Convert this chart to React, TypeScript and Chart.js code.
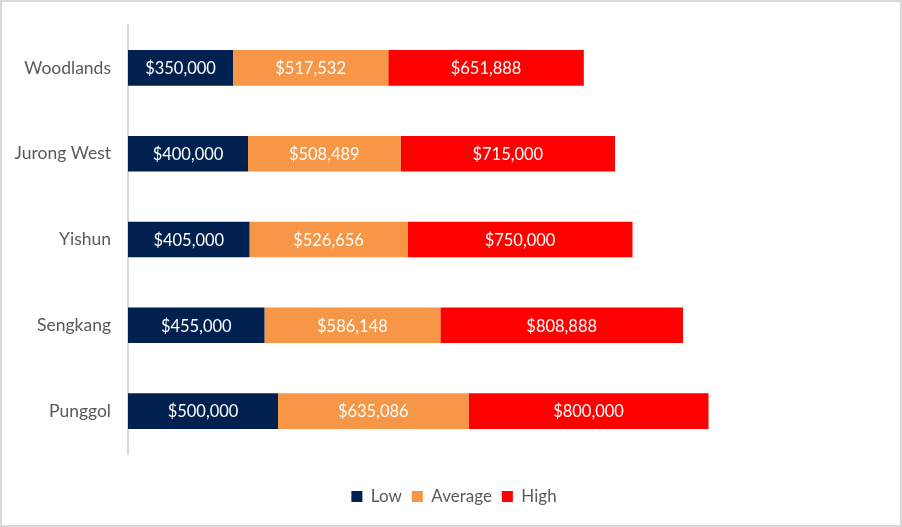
import React, { useEffect, useRef } from "react";
import { Chart, registerables } from "chart.js";

Chart.register(...registerables);

const categories = ["Woodlands", "Jurong West", "Yishun", "Sengkang", "Punggol"];
const lowValues = [350000, 400000, 405000, 455000, 500000];
const averageValues = [517532, 508489, 526656, 586148, 635086];
const highValues = [651888, 715000, 750000, 808888, 800000];
const seriesNames = ["Low", "Average", "High"];
const seriesColors = ["#002050", "#F79646", "#FF0000"];
const xMax = 2500000;

const FONT = "Lato, 'Open Sans', sans-serif";

const valueLabels = {
  id: "valueLabels",
  afterDatasetsDraw(chart: any) {
    const ctx = chart.ctx;
    ctx.save();
    ctx.font = `16.5px ${FONT}`;
    ctx.fillStyle = "#FFFFFF";
    ctx.textAlign = "center";
    ctx.textBaseline = "middle";
    chart.data.datasets.forEach((ds: any, di: number) => {
      const meta = chart.getDatasetMeta(di);
      if (meta.hidden) return;
      meta.data.forEach((el: any, i: number) => {
        const v = ds.data[i];
        const cx = (el.x + el.base) / 2;
        ctx.fillText("$" + Number(v).toLocaleString("en-US"), cx, el.y + 1);
      });
    });
    ctx.restore();
  },
};

const legendShift = {
  id: "legendShift",
  afterLayout(chart: any) {
    if (chart.legend) {
      chart.legend.left += 14;
      chart.legend.right += 14;
    }
  },
};

export default function App() {
  const ref = useRef<HTMLCanvasElement | null>(null);

  useEffect(() => {
    if (!ref.current) return;
    const chart = new Chart(ref.current, {
      type: "bar",
      data: {
        labels: categories,
        datasets: [lowValues, averageValues, highValues].map((d, i) => ({
          label: seriesNames[i],
          data: d,
          backgroundColor: seriesColors[i],
          borderWidth: 0,
          barPercentage: 1,
          categoryPercentage: 0.415,
        })),
      },
      options: {
        indexAxis: "y",
        responsive: false,
        animation: false,
        layout: { padding: { top: 23, right: 22, bottom: 10, left: 0 } },
        scales: {
          x: {
            stacked: true,
            min: 0,
            max: xMax,
            display: true,
            grid: { display: false, drawTicks: false },
            border: { display: false },
            ticks: { display: false },
            afterFit: (scale: any) => {
              scale.height = 24;
              scale.paddingLeft = 0;
              scale.paddingRight = 0;
            },
          },
          y: {
            stacked: true,
            grid: { display: false, drawTicks: false },
            border: { display: true, color: "#D9D9D9", width: 2 },
            ticks: {
              color: "#595959",
              font: { family: FONT, size: 17.5 },
              padding: 17,
            },
            afterFit: (scale: any) => {
              scale.width = 126;
              scale.paddingTop = 0;
              scale.paddingBottom = 0;
            },
          },
        },
        plugins: {
          legend: {
            position: "bottom",
            labels: {
              color: "#595959",
              font: { family: FONT, size: 17 },
              boxWidth: 11,
              boxHeight: 11,
              padding: 10,
            },
          },
          tooltip: { enabled: false },
        },
      },
      plugins: [valueLabels, legendShift],
    });
    return () => chart.destroy();
  }, []);

  return (
    <div
      style={{
        position: "absolute",
        left: 0,
        top: 0,
        width: 902,
        height: 527,
        boxSizing: "border-box",
        border: "2px solid #D9D9D9",
        background: "#FFFFFF",
      }}
    >
      <canvas ref={ref} width={898} height={523} style={{ display: "block" }} />
    </div>
  );
}
